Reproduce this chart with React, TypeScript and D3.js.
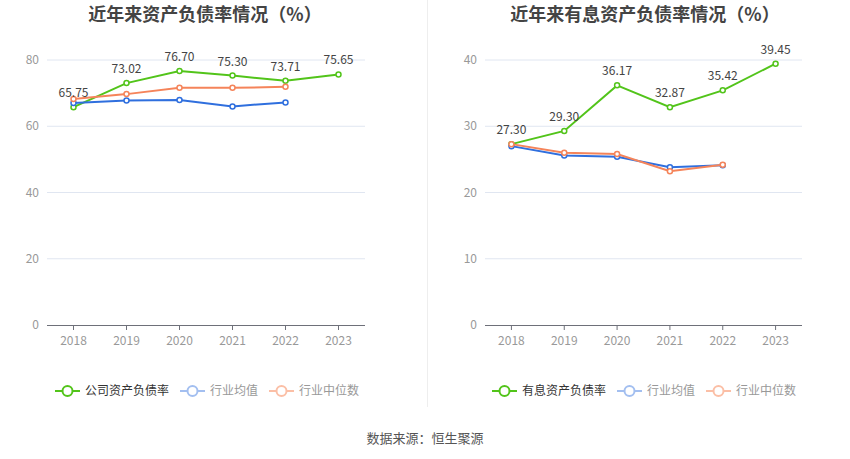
import { useEffect, useRef } from "react";
import * as d3 from "d3";

const YEARS = ["2018", "2019", "2020", "2021", "2022", "2023"];

const ASSET_RATIO = [65.75, 73.02, 76.7, 75.3, 73.71, 75.65];
const ASSET_IND_MEAN = [67.0, 67.8, 67.9, 66.0, 67.2];
const ASSET_IND_MEDIAN = [68.2, 69.7, 71.6, 71.6, 71.9];

const DEBT_RATIO = [27.3, 29.3, 36.17, 32.87, 35.42, 39.45];
const DEBT_IND_MEAN = [27.0, 25.6, 25.4, 23.8, 24.1];
const DEBT_IND_MEDIAN = [27.3, 26.0, 25.8, 23.2, 24.2];

const LEFT_TICKS = [0, 20, 40, 60, 80];
const RIGHT_TICKS = [0, 10, 20, 30, 40];

const GREEN = "#52c41a";
const BLUE = "#2f6fde";
const ORANGE = "#f5845a";
const FONT = "'Noto Sans CJK SC', 'Noto Sans', sans-serif";

type PanelProps = {
  x0: number;
  x1: number;
  title: string;
  titleX: number;
  mainName: string;
  main: number[];
  mean: number[];
  median: number[];
  ticks: number[];
  legendX: number;
};

function Panel(p: PanelProps) {
  const ref = useRef<SVGGElement>(null);

  useEffect(() => {
    if (!ref.current) return;
    const g = d3.select(ref.current);
    g.selectAll("*").remove();

    const top = 60;
    const bottom = 325;
    const x = d3.scaleBand<string>().domain(YEARS).range([p.x0, p.x1]);
    const cx = (d: string) => (x(d) ?? 0) + x.bandwidth() / 2;
    const y = d3
      .scaleLinear()
      .domain([0, d3.max(p.ticks) as number])
      .range([bottom, top]);

    // title
    g.append("text")
      .attr("x", p.titleX)
      .attr("y", 21)
      .attr("text-anchor", "middle")
      .style("font-size", "18px")
      .style("font-weight", "bold")
      .style("fill", "#444")
      .text(p.title);

    // grid + y labels
    g.selectAll(".grid")
      .data(p.ticks.filter((t) => t > 0))
      .join("line")
      .attr("x1", p.x0)
      .attr("x2", p.x1)
      .attr("y1", (d) => y(d))
      .attr("y2", (d) => y(d))
      .attr("stroke", "#e0e6f1")
      .attr("stroke-width", 1);

    g.selectAll(".ylab")
      .data(p.ticks)
      .join("text")
      .attr("x", p.x0 - 8)
      .attr("y", (d) => y(d))
      .attr("dy", "0.35em")
      .attr("text-anchor", "end")
      .style("font-size", "12px")
      .style("fill", "#999")
      .text((d) => String(d));

    // x axis
    g.append("line")
      .attr("x1", p.x0)
      .attr("x2", p.x1)
      .attr("y1", bottom + 0.5)
      .attr("y2", bottom + 0.5)
      .attr("stroke", "#6e7079");

    g.selectAll(".xt")
      .data(YEARS)
      .join("line")
      .attr("x1", (d) => cx(d))
      .attr("x2", (d) => cx(d))
      .attr("y1", bottom)
      .attr("y2", bottom + 5)
      .attr("stroke", "#6e7079");

    g.selectAll(".xlab")
      .data(YEARS)
      .join("text")
      .attr("x", (d) => cx(d))
      .attr("y", bottom + 20)
      .attr("text-anchor", "middle")
      .style("font-size", "12px")
      .style("fill", "#999")
      .text((d) => d);

    const line = d3
      .line<number>()
      .x((_, i) => cx(YEARS[i]))
      .y((d) => y(d));

    const drawSeries = (vals: number[], color: string) => {
      g.append("path")
        .attr("d", line(vals))
        .attr("fill", "none")
        .attr("stroke", color)
        .attr("stroke-width", 2);
      g.append("g")
        .selectAll("circle")
        .data(vals)
        .join("circle")
        .attr("cx", (_, i) => cx(YEARS[i]))
        .attr("cy", (d) => y(d))
        .attr("r", 2.5)
        .attr("fill", "#fff")
        .attr("stroke", color)
        .attr("stroke-width", 1.5);
    };

    drawSeries(p.main, GREEN);
    drawSeries(p.mean, BLUE);
    drawSeries(p.median, ORANGE);

    g.append("g")
      .selectAll("text")
      .data(p.main)
      .join("text")
      .attr("x", (_, i) => cx(YEARS[i]))
      .attr("y", (d) => y(d) - 10)
      .attr("text-anchor", "middle")
      .style("font-size", "12px")
      .style("fill", "#444")
      .text((d) => d.toFixed(2));

    // legend
    const items = [
      { name: p.mainName, icon: GREEN, text: "#333" },
      { name: "行业均值", icon: "#a3bff0", text: "#999" },
      { name: "行业中位数", icon: "#fbbfa6", text: "#999" },
    ];
    let lx = p.legendX;
    const ly = 391;
    items.forEach((it) => {
      const lg = g.append("g");
      lg.append("line")
        .attr("x1", lx)
        .attr("x2", lx + 25)
        .attr("y1", ly)
        .attr("y2", ly)
        .attr("stroke", it.icon)
        .attr("stroke-width", 2);
      lg.append("circle")
        .attr("cx", lx + 12.5)
        .attr("cy", ly)
        .attr("r", 5)
        .attr("fill", "#fff")
        .attr("stroke", it.icon)
        .attr("stroke-width", 2);
      lg.append("text")
        .attr("x", lx + 30)
        .attr("y", ly)
        .attr("dy", "0.35em")
        .style("font-size", "12px")
        .style("fill", it.text)
        .text(it.name);
      lx += 30 + it.name.length * 12 + 11;
    });
  }, [p]);

  return <g ref={ref} />;
}

export default function App() {
  return (
    <svg
      width={850}
      height={459}
      style={{ position: "absolute", left: 0, top: 0, fontFamily: FONT, background: "#fff" }}
    >
      <Panel
        x0={47}
        x1={365}
        title="近年来资产负债率情况（%）"
        titleX={205}
        mainName="公司资产负债率"
        main={ASSET_RATIO}
        mean={ASSET_IND_MEAN}
        median={ASSET_IND_MEDIAN}
        ticks={LEFT_TICKS}
        legendX={55}
      />
      <Panel
        x0={485}
        x1={802}
        title="近年来有息资产负债率情况（%）"
        titleX={645}
        mainName="有息资产负债率"
        main={DEBT_RATIO}
        mean={DEBT_IND_MEAN}
        median={DEBT_IND_MEDIAN}
        ticks={RIGHT_TICKS}
        legendX={492}
      />
      <line x1={427.5} x2={427.5} y1={0} y2={407} stroke="#eeeeee" />
      <text
        x={425}
        y={443}
        textAnchor="middle"
        style={{ fontSize: "13px", fill: "#555" }}
      >
        数据来源：恒生聚源
      </text>
    </svg>
  );
}
